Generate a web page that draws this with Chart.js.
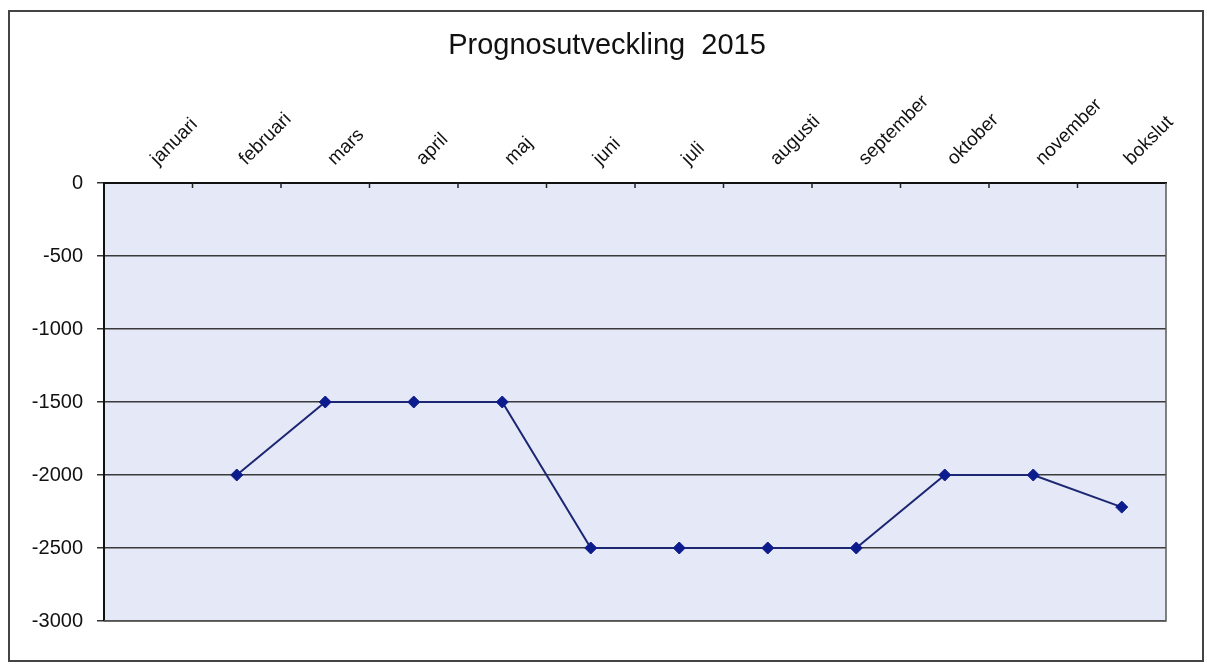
<!DOCTYPE html>
<html>
<head>
<meta charset="utf-8">
<title>Prognosutveckling 2015</title>
<script src="https://cdn.jsdelivr.net/npm/chart.js@4"></script>
<style>
  html, body { margin: 0; padding: 0; background: #fff; }
  canvas { display: block; }
</style>
</head>
<body>
<canvas id="prognosChart" width="1207" height="664"></canvas>
<script>
// Chart data
const chartTitle = "Prognosutveckling  2015";
const categories = ["januari", "februari", "mars", "april", "maj", "juni",
                    "juli", "augusti", "september", "oktober", "november", "bokslut"];
const prognos = [null, -2000, -1500, -1500, -1500, -2500, -2500, -2500, -2500, -2000, -2000, -2220];
const yTicks = [0, -500, -1000, -1500, -2000, -2500, -3000];

const fontFamily = "'Liberation Sans', Arial, sans-serif";

// Plot background, title, outer frame and the small inward ticks on the category axis
const frame = {
  id: "frame",
  beforeDraw(chart) {
    const { ctx, chartArea: a } = chart;
    ctx.save();
    ctx.fillStyle = "#ffffff";
    ctx.fillRect(0, 0, chart.width, chart.height);
    ctx.fillStyle = "#e4e8f7";
    ctx.fillRect(a.left, a.top, a.right - a.left, a.bottom - a.top);
    ctx.restore();
  },
  afterDraw(chart) {
    const { ctx, chartArea: a } = chart;
    const x = chart.scales.x;
    ctx.save();
    // title (off-centre like the original sheet)
    ctx.fillStyle = "#111";
    ctx.font = "29px " + fontFamily;
    ctx.textAlign = "center";
    ctx.textBaseline = "middle";
    ctx.fillText(chartTitle, 607, 46);
    // right and bottom edge of plot area
    ctx.strokeStyle = "#5a5a5a";
    ctx.lineWidth = 1.5;
    ctx.beginPath();
    ctx.moveTo(a.right, a.top);
    ctx.lineTo(a.right, a.bottom);
    ctx.lineTo(a.left, a.bottom);
    ctx.stroke();
    // tick marks between categories
    ctx.strokeStyle = "#222";
    ctx.lineWidth = 1.5;
    for (let i = 1; i < categories.length; i++) {
      const px = (x.getPixelForValue(i - 1) + x.getPixelForValue(i)) / 2;
      ctx.beginPath();
      ctx.moveTo(px, a.top);
      ctx.lineTo(px, a.top + 5);
      ctx.stroke();
    }
    // outer chart border
    ctx.strokeStyle = "#444";
    ctx.lineWidth = 2;
    ctx.strokeRect(9, 11, 1194, 650);
    ctx.restore();
  }
};

new Chart(document.getElementById("prognosChart"), {
  type: "line",
  data: {
    labels: categories,
    datasets: [{
      label: "Prognos",
      data: prognos,
      borderColor: "#1c2672",
      borderWidth: 2,
      tension: 0,
      pointStyle: "rectRot",
      pointRadius: 6,
      pointBackgroundColor: "#0d1c8c",
      pointBorderColor: "#0d1c8c",
      pointBorderWidth: 1
    }]
  },
  options: {
    responsive: false,
    animation: false,
    layout: { padding: { left: 0, right: 41, top: 72.6, bottom: 43 } },
    plugins: {
      legend: { display: false },
      tooltip: { enabled: false },
      title: { display: false }
    },
    scales: {
      x: {
        position: "top",
        offset: true,
        afterFit(scale) {
          scale.height = 110.4;
          scale.paddingLeft = 0;
          scale.paddingRight = 0;
        },
        grid: { display: true, offset: true, drawOnChartArea: false, drawTicks: false },
        border: { display: true, color: "#111", width: 2 },
        ticks: {
          autoSkip: false,
          minRotation: 45,
          maxRotation: 45,
          padding: 13,
          labelOffset: 22,
          color: "#111",
          font: { family: fontFamily, size: 19 }
        }
      },
      y: {
        min: -3000,
        max: 0,
        afterFit(scale) {
          scale.width = 104;
          scale.paddingTop = 0;
          scale.paddingBottom = 0;
        },
        afterBuildTicks(scale) { scale.ticks = yTicks.map(v => ({ value: v })); },
        grid: { color: "#3a3a3a", lineWidth: 1.5, tickLength: 7, tickColor: "#333" },
        border: { display: true, color: "#111", width: 2 },
        ticks: {
          padding: 14,
          color: "#111",
          font: { family: fontFamily, size: 20 },
          callback: value => String(value)
        }
      }
    }
  },
  plugins: [frame]
});
</script>
</body>
</html>
